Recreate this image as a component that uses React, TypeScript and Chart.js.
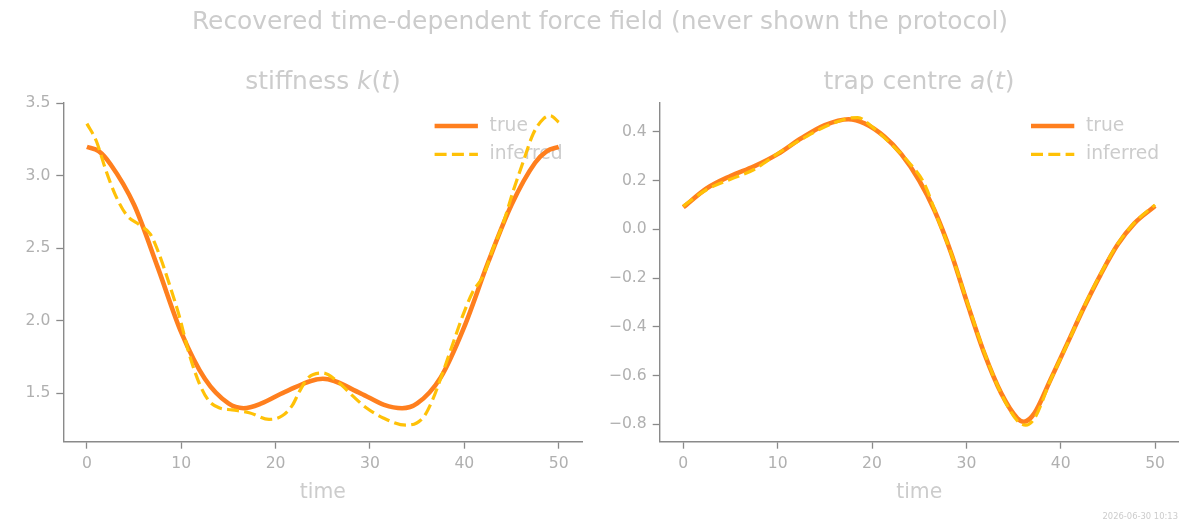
import React, { useEffect, useRef } from "react";
import { Chart, registerables } from "chart.js";

Chart.register(...registerables);

// ---- stiffness k(t) ----
const kTrueTime = [0, 1.25, 2.5, 5, 7.5, 10, 12.5, 15, 16.6, 18.5, 21, 25, 29, 31.5, 33.4, 35, 37.5, 40, 42.5, 45, 47.5, 48.75, 50];
const kTrueValue = [3.2, 3.17, 3.08, 2.8, 2.37, 1.92, 1.6, 1.43, 1.397, 1.43, 1.51, 1.6, 1.5, 1.42, 1.397, 1.43, 1.61, 1.96, 2.4, 2.8, 3.09, 3.17, 3.2];

const kInferredTime = [0, 1, 2, 3, 4.2, 5.6, 6.7, 7.6, 8.7, 9.8, 10.8, 11.9, 12.9, 14, 15.4, 17.2, 19.3, 20.7, 21.8, 22.5, 23.5, 25, 26.4, 28.2, 29.6, 31.4, 33.8, 35.6, 36.6, 37.7, 38.8, 39.8, 40.9, 42, 43, 44.1, 45.2, 46.2, 47.3, 48.4, 49.1, 50];
const kInferredValue = [3.36, 3.24, 3.04, 2.87, 2.73, 2.66, 2.6, 2.47, 2.26, 2.03, 1.78, 1.57, 1.45, 1.4, 1.385, 1.366, 1.32, 1.345, 1.42, 1.51, 1.61, 1.64, 1.59, 1.48, 1.4, 1.33, 1.28, 1.33, 1.45, 1.64, 1.845, 2.03, 2.2, 2.31, 2.49, 2.67, 2.9, 3.09, 3.29, 3.395, 3.415, 3.37];

// ---- trap centre a(t) ----
const aTrueTime = [0, 2.5, 5, 7.5, 10, 12.5, 15, 17.5, 19.2, 21.3, 23.1, 25, 26.6, 28.4, 30.1, 31.9, 33.7, 35.4, 36.1, 37.2, 38.9, 40.7, 42.5, 44.2, 46, 47.8, 50];
const aTrueValue = [0.09, 0.168, 0.218, 0.258, 0.308, 0.373, 0.427, 0.451, 0.434, 0.38, 0.308, 0.2, 0.079, -0.099, -0.304, -0.509, -0.673, -0.775, -0.789, -0.755, -0.618, -0.468, -0.318, -0.188, -0.065, 0.024, 0.095];

const aInferredTime = [0, 2.5, 5, 7.5, 10, 12.5, 15, 17.5, 18.5, 20, 22, 24, 25.5, 27, 28.4, 30.1, 31.9, 33.7, 35.4, 36.3, 37.3, 38.9, 40.7, 42.5, 44.2, 46, 47.8, 50];
const aInferredValue = [0.095, 0.163, 0.205, 0.245, 0.31, 0.368, 0.42, 0.455, 0.458, 0.42, 0.35, 0.27, 0.19, 0.04, -0.1, -0.3, -0.505, -0.675, -0.785, -0.803, -0.77, -0.62, -0.47, -0.315, -0.185, -0.062, 0.026, 0.1];

// ---- axes ----
const timeTicks = [0, 10, 20, 30, 40, 50];
const kTicks = [1.5, 2.0, 2.5, 3.0, 3.5];
const aTicks = [-0.8, -0.6, -0.4, -0.2, 0.0, 0.2, 0.4];
const seriesLabels = ["true", "inferred"];

const FONT = '"DejaVu Sans", sans-serif';
const TRUE_COLOR = "#ff7f1e";
const INFERRED_COLOR = "#ffc107";
const SPINE = "#8a8a8a";
const TICK_TEXT = "#b0b0b0";
const SOFT_TEXT = "#cccccc";

const toPoints = (xs: number[], ys: number[]) => xs.map((x, i) => ({ x, y: ys[i] }));
const fmt1 = (v: number) => {
  const s = Math.abs(v).toFixed(1);
  return v < -1e-9 ? "\u2212" + s : s;
};

// legend in the upper-right corner of the plot area, drawn beneath the curves
const cornerLegend = {
  id: "cornerLegend",
  beforeDatasetsDraw(chart: any) {
    const { ctx, chartArea } = chart;
    const sets = chart.data.datasets;
    ctx.save();
    sets.forEach((ds: any, i: number) => {
      const y = chartArea.top + 23.7 + i * 28.3;
      const x0 = chartArea.right - 147.7;
      const x1 = chartArea.right - 104.4;
      ctx.strokeStyle = ds.borderColor;
      ctx.lineWidth = ds.borderWidth;
      ctx.setLineDash(ds.borderDash || []);
      ctx.beginPath();
      ctx.moveTo(x0, y);
      ctx.lineTo(x1, y);
      ctx.stroke();
      ctx.setLineDash([]);
      ctx.fillStyle = SOFT_TEXT;
      ctx.font = `18.7px ${FONT}`;
      ctx.textBaseline = "middle";
      ctx.textAlign = "left";
      ctx.fillText(ds.label, chartArea.right - 92.7, y);
    });
    ctx.restore();
  },
};

type PanelProps = {
  left: number;
  trueT: number[];
  trueV: number[];
  infT: number[];
  infV: number[];
  yMin: number;
  yMax: number;
  yTicks: number[];
  yAxisWidth: number;
  padRight: number;
};

function Panel(p: PanelProps) {
  const ref = useRef<HTMLCanvasElement | null>(null);
  useEffect(() => {
    if (!ref.current) return;
    const tickFont = { family: FONT, size: 15.6 };
    const chart = new Chart(ref.current, {
      type: "line",
      data: {
        datasets: [
          {
            label: seriesLabels[0],
            data: toPoints(p.trueT, p.trueV),
            borderColor: TRUE_COLOR,
            borderWidth: 4.6,
            cubicInterpolationMode: "monotone",
            pointRadius: 0,
            fill: false,
            order: 2,
          },
          {
            label: seriesLabels[1],
            data: toPoints(p.infT, p.infV),
            borderColor: INFERRED_COLOR,
            borderWidth: 3.2,
            borderDash: [12, 5.3],
            cubicInterpolationMode: "monotone",
            pointRadius: 0,
            fill: false,
            order: 1,
          },
        ],
      } as any,
      options: {
        responsive: false,
        animation: false,
        devicePixelRatio: 1,
        layout: { padding: { left: 0, right: p.padRight, top: 102.3, bottom: 0 } },
        plugins: {
          legend: { display: false },
          tooltip: { enabled: false },
          title: { display: false },
        },
        elements: { point: { radius: 0 } },
        scales: {
          x: {
            type: "linear",
            min: -2.5,
            max: 52.5,
            afterBuildTicks: (s: any) => {
              s.ticks = timeTicks.map((v) => ({ value: v }));
            },
            afterFit: (s: any) => {
              s.height = 83.3;
            },
            ticks: {
              color: TICK_TEXT,
              font: tickFont,
              padding: 5.5,
              autoSkip: false,
              maxRotation: 0,
              callback: (v: any) => String(v),
            },
            grid: {
              display: true,
              drawOnChartArea: false,
              drawTicks: true,
              tickLength: 7,
              tickWidth: 1.3,
              tickColor: SPINE,
            },
            border: { display: true, color: SPINE, width: 1.4 },
            title: {
              display: true,
              text: "time",
              color: SOFT_TEXT,
              font: { family: FONT, size: 20.4 },
              padding: { top: 0, bottom: 19.8 },
            },
          },
          y: {
            type: "linear",
            min: p.yMin,
            max: p.yMax,
            afterBuildTicks: (s: any) => {
              s.ticks = p.yTicks.map((v) => ({ value: v }));
            },
            afterFit: (s: any) => {
              s.width = p.yAxisWidth;
            },
            ticks: {
              color: TICK_TEXT,
              font: tickFont,
              padding: 6,
              autoSkip: false,
              callback: (v: any) => fmt1(Number(v)),
            },
            grid: {
              display: true,
              drawOnChartArea: false,
              drawTicks: true,
              tickLength: 7,
              tickWidth: 1.3,
              tickColor: SPINE,
            },
            border: { display: true, color: SPINE, width: 1.4 },
          },
        },
      } as any,
      plugins: [cornerLegend],
    });
    return () => chart.destroy();
  }, []);
  return (
    <canvas
      ref={ref}
      width={600}
      height={525}
      style={{ position: "absolute", left: p.left, top: 0, width: 600, height: 525 }}
    />
  );
}

const textBase: React.CSSProperties = {
  position: "absolute",
  fontFamily: FONT,
  color: SOFT_TEXT,
  whiteSpace: "nowrap",
  transform: "translate(-50%, -50%)",
  lineHeight: 1.2,
};

export default function App() {
  return (
    <div
      style={{
        position: "absolute",
        left: 0,
        top: 0,
        width: 1200,
        height: 525,
        background: "#ffffff",
        overflow: "hidden",
      }}
    >
      <Panel
        left={0}
        trueT={kTrueTime}
        trueV={kTrueValue}
        infT={kInferredTime}
        infV={kInferredValue}
        yMin={1.166}
        yMax={3.507}
        yTicks={kTicks}
        yAxisWidth={63.3}
        padRight={17.7}
      />
      <Panel
        left={600}
        trueT={aTrueTime}
        trueV={aTrueValue}
        infT={aInferredTime}
        infV={aInferredValue}
        yMin={-0.871}
        yMax={0.5205}
        yTicks={aTicks}
        yAxisWidth={59.7}
        padRight={21.3}
      />
      <div style={{ ...textBase, left: 600, top: 21, fontSize: 24.9 }}>
        Recovered time-dependent force field (never shown the protocol)
      </div>
      <div style={{ ...textBase, left: 323, top: 81, fontSize: 24.9 }}>
        stiffness <i>k</i>(<i>t</i>)
      </div>
      <div style={{ ...textBase, left: 919, top: 81, fontSize: 24.9 }}>
        trap centre <i>a</i>(<i>t</i>)
      </div>
      <div
        style={{
          position: "absolute",
          right: 22,
          top: 516,
          transform: "translateY(-50%)",
          fontFamily: FONT,
          fontSize: 8.4,
          color: SOFT_TEXT,
          whiteSpace: "nowrap",
        }}
      >
        2026-06-30 10:13
      </div>
    </div>
  );
}
